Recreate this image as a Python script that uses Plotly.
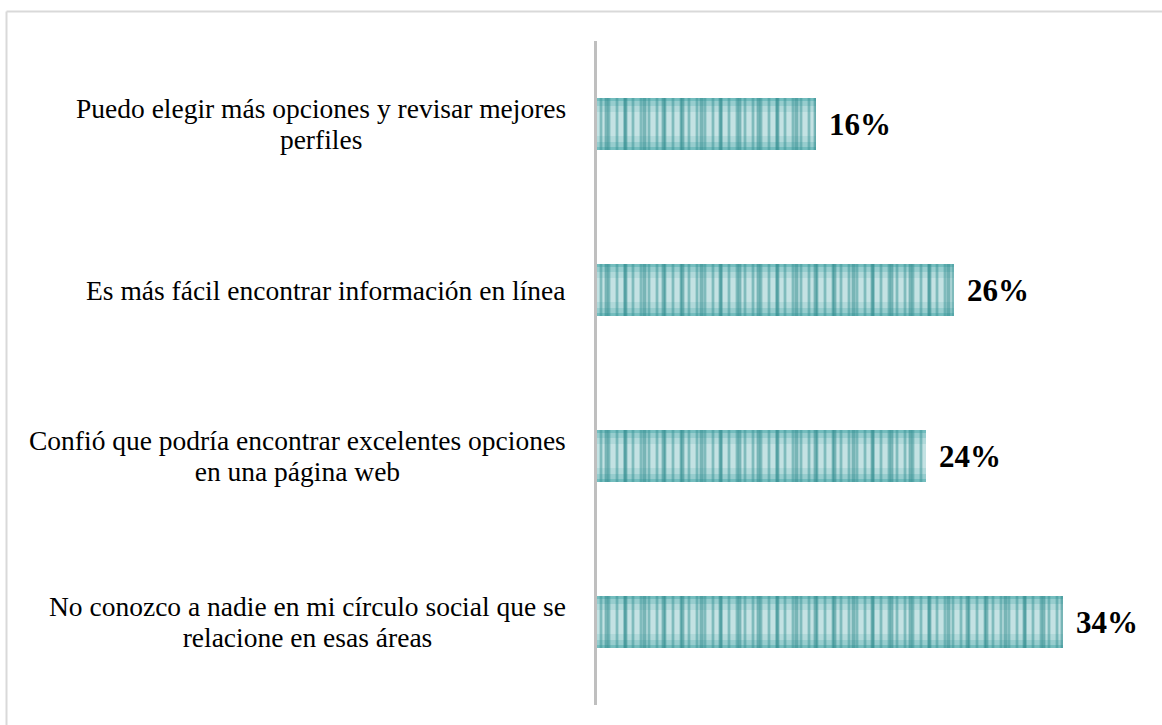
import plotly.graph_objects as go

# Survey answers (top to bottom) and their shares in percent
categories = [
    ["Puedo elegir más opciones y revisar mejores", "perfiles"],
    ["Es más fácil encontrar información en línea"],
    ["Confió que podría encontrar excelentes opciones", "en una página web"],
    ["No conozco a nadie en mi círculo social que se", "relacione en esas áreas"],
]
values = [16, 26, 24, 34]

positions = list(range(len(categories)))
BAR_W = 0.313
SERIF = "Liberation Serif"
LABEL_PX = 27.5     # label glyph size
LINE_PX = 31        # distance between label lines

fig = go.Figure()

# base teal fill
fig.add_trace(go.Bar(
    y=positions, x=values, orientation="h", width=BAR_W,
    marker=dict(color="#74bdbe", line=dict(width=0)),
    hoverinfo="skip", showlegend=False,
))
# lighter core bands give a soft vertical gradient
for w, a in [(0.28, 0.25), (0.22, 0.25), (0.15, 0.25)]:
    fig.add_trace(go.Bar(
        y=positions, x=values, orientation="h", width=w,
        marker=dict(color=f"rgba(255,255,255,{a})", line=dict(width=0)),
        hoverinfo="skip", showlegend=False,
    ))
# vertical stripe textures
fig.add_trace(go.Bar(
    y=positions, x=values, orientation="h", width=BAR_W,
    marker=dict(color="rgba(0,0,0,0)", line=dict(width=0),
                pattern=dict(shape="|", fgcolor="#3a9496", bgcolor="rgba(0,0,0,0)",
                             size=8, solidity=0.35, fillmode="overlay")),
    hoverinfo="skip", showlegend=False,
))
fig.add_trace(go.Bar(
    y=positions, x=values, orientation="h", width=BAR_W,
    marker=dict(color="rgba(0,0,0,0)", line=dict(width=0),
                pattern=dict(shape="|", fgcolor="#2b8789", bgcolor="rgba(0,0,0,0)",
                             size=19, solidity=0.2, fillmode="overlay")),
    hoverinfo="skip", showlegend=False,
))

annotations = []
for p, v, lines in zip(positions, values, categories):
    annotations.append(dict(
        x=v, y=p, xref="x", yref="y", text=f"<b>{v}%</b>", showarrow=False,
        xanchor="left", yanchor="middle", xshift=11,
        font=dict(family=SERIF, size=31, color="#000000"),
    ))
    label = "<br>".join(
        f"<span style='font-size:{LABEL_PX}px'>{ln}</span>" for ln in lines
    )
    annotations.append(dict(
        x=0, y=p, xref="x", yref="y", text=label, showarrow=False,
        xanchor="right", yanchor="middle", align="center", xshift=-29,
        font=dict(family=SERIF, size=LINE_PX / 1.3, color="#000000"),
    ))

# light gray frame around the chart area
L, T = 597, 41
PW, PH = 1162 - 597 - 22, 725 - 41 - 20
fx = (6.5 - L) / PW
fy = (725 - 20 - 11.5) / PH
shapes = [
    dict(type="line", xref="paper", yref="paper", x0=fx, x1=fx, y0=-0.2, y1=fy,
         line=dict(color="#d9d9d9", width=2)),
    dict(type="line", xref="paper", yref="paper", x0=fx, x1=1.2, y0=fy, y1=fy,
         line=dict(color="#d9d9d9", width=2)),
]

fig.update_layout(
    width=1162, height=725,
    font=dict(family=SERIF, color="#000000"),
    margin=dict(l=L, r=22, t=T, b=20),
    paper_bgcolor="#ffffff", plot_bgcolor="#ffffff",
    barmode="overlay", bargap=0,
    annotations=annotations, shapes=shapes,
    xaxis=dict(range=[0, 39.6], visible=False, fixedrange=True),
    yaxis=dict(range=[3.5, -0.5], showticklabels=False, ticks="", showgrid=False,
               zeroline=False, showline=True, linecolor="#bfbfbf", linewidth=3,
               fixedrange=True),
)

fig.write_html("out.html")
